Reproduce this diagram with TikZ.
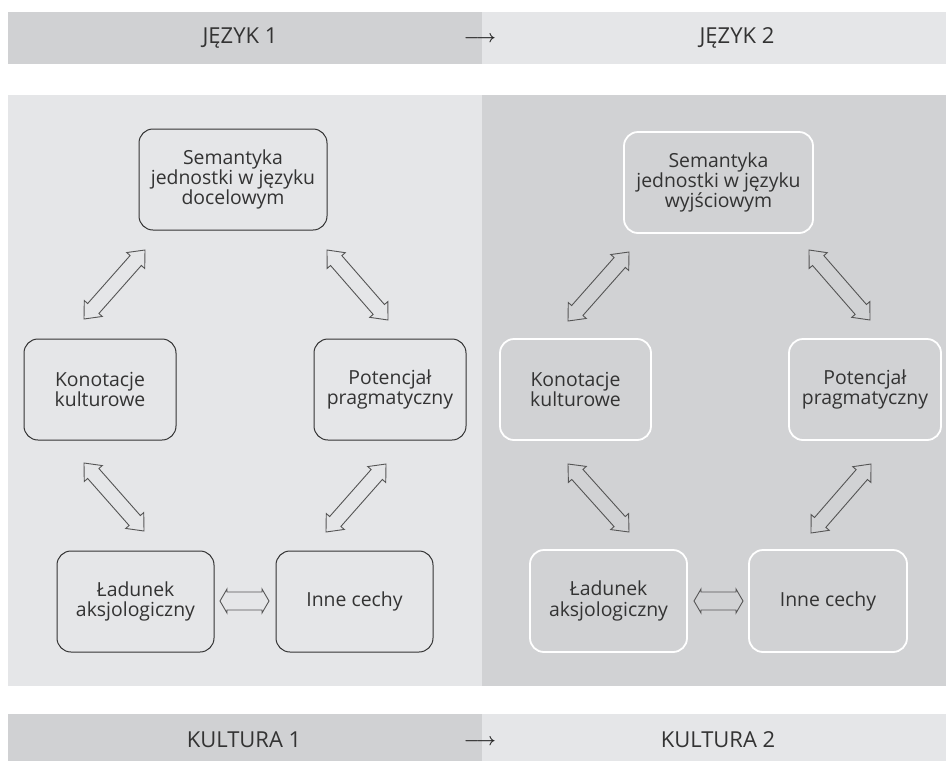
\documentclass[tikz,border=0pt]{standalone}
\usepackage{amsmath}
\usepackage{fontspec}
\setmainfont{Open Sans}
\usetikzlibrary{calc}
\definecolor{bardark}{HTML}{D0D1D3}
\definecolor{barlight}{HTML}{E5E6E8}
\definecolor{panlight}{HTML}{E5E6E8}
\definecolor{pandark}{HTML}{D1D2D4}
\definecolor{txt}{HTML}{333333}
\definecolor{arr}{HTML}{555555}
\tikzset{
  box/.style={rounded corners=14pt, line width=1pt, align=center, text=txt,
    inner sep=0pt, font=\fontsize{19.4}{20.3}\selectfont},
  boxleft/.style={box, draw=txt},
  boxright/.style={box, draw=white, line width=1.8pt},
  bartext/.style={text=txt, font=\fontsize{22}{24}\selectfont, inner sep=0pt},
  arrline/.style={draw=arr, line width=0.9pt, line join=miter},
  bararrow/.style={text=black!85, inner sep=0pt, font=\fontsize{19}{20}\selectfont}
}
% hollow double arrow between two named coordinates
% #1 start, #2 end, #3 head length, #4 shaft half-width, #5 head half-width
\newcommand\hollowdbl[5]{%
  \path ($(#1)!#3!(#2)$) coordinate (hA) ($(#2)!#3!(#1)$) coordinate (hB);
  \draw[arrline] (#1) -- ($(hA)!#5!90:(#2)$) -- ($(hA)!#4!90:(#2)$)
    -- ($(hB)!#4!-90:(#1)$) -- ($(hB)!#5!-90:(#1)$) -- (#2)
    -- ($(hB)!#5!90:(#1)$) -- ($(hB)!#4!90:(#1)$)
    -- ($(hA)!#4!-90:(#2)$) -- ($(hA)!#5!-90:(#2)$) -- cycle;
}
\begin{document}
\begin{tikzpicture}[x=1pt,y=-1pt]
\useasboundingbox (0,0) rectangle (946,761);
\fill[white] (0,0) rectangle (946,761);
% bars and panels
\fill[bardark] (8,12) rectangle (482,64);
\fill[barlight] (482,12) rectangle (946,64);
\fill[panlight] (8,95) rectangle (482,686);
\fill[pandark] (482,95) rectangle (946,686);
\fill[bardark] (8,714) rectangle (482,761);
\fill[barlight] (482,714) rectangle (946,761);
% bar texts
\node[bartext] (j1) at (240,38) {JĘZYK 1};
\node[bararrow] (ja) at (480,39) {$\boldsymbol{\longrightarrow}$};
\node[bartext] (j2) at (737,38) {JĘZYK 2};
\node[bartext] (k1) at (244,740) {KULTURA 1};
\node[bararrow] (ka) at (480,742) {$\boldsymbol{\longrightarrow}$};
\node[bartext] (k2) at (718,740) {KULTURA 2};
% left boxes
\node[boxleft, minimum width=188pt, minimum height=101pt] (Lsem) at (233,179.5) {Semantyka\\jednostki w języku\\docelowym};
\node[boxleft, minimum width=152pt, minimum height=101pt] (Lkon) at (100,389.5) {Konotacje\\kulturowe};
\node[boxleft, minimum width=152pt, minimum height=101pt] (Lpot) at (390,389.5) {Potencjał\\pragmatyczny};
\node[boxleft, minimum width=157pt, minimum height=101pt] (Llad) at (135.5,601.5) {Ładunek\\aksjologiczny};
\node[boxleft, minimum width=157pt, minimum height=101pt] (Linne) at (354.5,601.5) {Inne cechy};
% right boxes
\node[boxright, minimum width=189pt, minimum height=101pt] (Rsem) at (718.5,182.5) {Semantyka\\jednostki w języku\\wyjściowym};
\node[boxright, minimum width=151pt, minimum height=101pt] (Rkon) at (575.5,389.5) {Konotacje\\kulturowe};
\node[boxright, minimum width=152pt, minimum height=101pt] (Rpot) at (865,389.5) {Potencjał\\pragmatyczny};
\node[boxright, minimum width=157pt, minimum height=102pt] (Rlad) at (608.5,601) {Ładunek\\aksjologiczny};
\node[boxright, minimum width=158pt, minimum height=102pt] (Rinne) at (828,601) {Inne cechy};
% arrow end points (left)
\coordinate (a1s) at (84,319); \coordinate (a1e) at (145,250);
\coordinate (a2s) at (327,250); \coordinate (a2e) at (388,320);
\coordinate (a3s) at (84,463); \coordinate (a3e) at (144,531);
\coordinate (a4s) at (386,464); \coordinate (a4e) at (326,532);
\coordinate (a5s) at (220,601); \coordinate (a5e) at (269,601);
% arrow end points (right)
\coordinate (b1s) at (568,321); \coordinate (b1e) at (629,252);
\coordinate (b2s) at (809,250); \coordinate (b2e) at (870,320);
\coordinate (b3s) at (568,464); \coordinate (b3e) at (629,532);
\coordinate (b4s) at (871,464); \coordinate (b4e) at (811,533);
\coordinate (b5s) at (694,601); \coordinate (b5e) at (743,601);
\hollowdbl{a1s}{a1e}{14pt}{7.5pt}{12pt}
\hollowdbl{a2s}{a2e}{14pt}{7.5pt}{12pt}
\hollowdbl{a3s}{a3e}{14pt}{7.5pt}{12pt}
\hollowdbl{a4s}{a4e}{14pt}{7.5pt}{12pt}
\hollowdbl{a5s}{a5e}{7pt}{9pt}{12pt}
\hollowdbl{b1s}{b1e}{14pt}{7.5pt}{12pt}
\hollowdbl{b2s}{b2e}{14pt}{7.5pt}{12pt}
\hollowdbl{b3s}{b3e}{14pt}{7.5pt}{12pt}
\hollowdbl{b4s}{b4e}{14pt}{7.5pt}{12pt}
\hollowdbl{b5s}{b5e}{7pt}{9pt}{12pt}
\end{tikzpicture}
\end{document}
